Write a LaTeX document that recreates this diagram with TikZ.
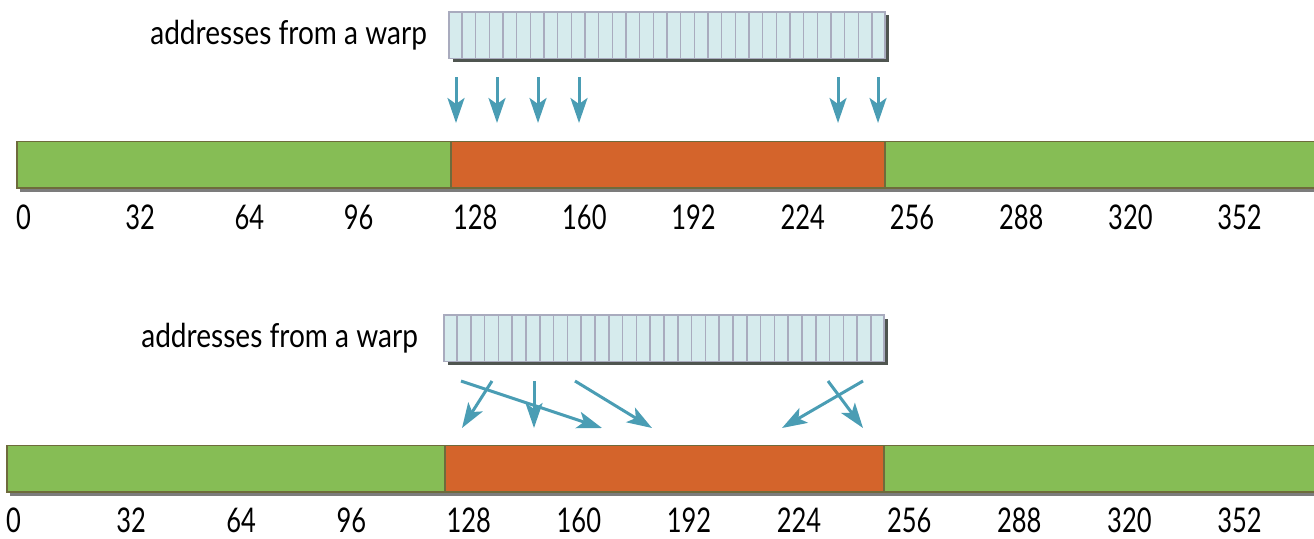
\documentclass[tikz,border=0pt]{standalone}
\usepackage{fontspec}
\setmainfont{Lato}[FakeStretch=0.85]
\newfontfamily\numfont{Lato}[FakeStretch=0.75]
\usepackage{xcolor}
\definecolor{BarGreen}{HTML}{86BD55}
\definecolor{BarOrange}{HTML}{D4642B}
\definecolor{BarEdge}{HTML}{6E6B3C}
\definecolor{BarShade}{HTML}{7C7C7C}
\definecolor{CellFill}{HTML}{D6EBED}
\definecolor{CellEdge}{HTML}{A9ABBE}
\definecolor{WarpShade}{HTML}{4F5550}
\definecolor{ArrowBlue}{HTML}{4A9DB4}
\usepackage{tikz}
\usetikzlibrary{calc, arrows.meta, positioning, shadows}

\begin{document}
\begin{tikzpicture}[x=1pt, y=-1pt,
    warpbox/.style={draw=CellEdge, line width=1.5pt, fill=CellFill,
      minimum height=46.5pt, inner sep=0pt,
      general shadow={fill=WarpShade, shadow xshift=3.5pt, shadow yshift=-3.5pt}},
    membar/.style={draw=BarEdge, line width=1.5pt, fill=BarGreen,
      minimum height=46.5pt, inner sep=0pt, anchor=north west},
    barshade/.style={general shadow={fill=BarShade, shadow xshift=3pt, shadow yshift=-4pt}},
    warplabel/.style={font=\fontsize{33}{38}\selectfont, inner sep=0pt},
    addr/.style={font=\numfont\fontsize{34}{38}\selectfont, inner sep=0pt, anchor=west},
    addrarrow/.style={ArrowBlue, line width=3pt,
      -{Stealth[length=25pt, width=17pt, inset=6pt]}}]
  \useasboundingbox (0,0) rectangle (1314,538);

  % coalesced access: one warp, one segment
  \node[warpbox, minimum width=436pt] (warpA) at (667,35) {};
  \foreach \k in {1,...,31}
    \draw[CellEdge, line width=1.5pt]
      ($(warpA.north west)!\k/32!(warpA.north east)$) --
      ($(warpA.south west)!\k/32!(warpA.south east)$);
  \node[warplabel, left=21pt of warpA] (txtA) {addresses from a warp};

  \node[membar, barshade, minimum width=1304pt] (memA) at (16,140.5) {};
  \node[membar, fill=BarOrange, minimum width=434pt] (segA) at (450,140.5) {};
  \foreach \a [count=\i from 0] in {0,32,...,352}
    \node[addr] (a\a) at (16+109.2*\i,217) {\a};

  \foreach \x [count=\n] in {456,497,538,579,838,878} {
    \coordinate (ta\n) at (\x,77);
    \coordinate (ha\n) at (\x,123);
    \draw[addrarrow] (ta\n) -- (ha\n);
  }

  % permuted access: same segment, shuffled threads
  \node[warpbox, minimum width=440pt] (warpB) at (664,338.3) {};
  \foreach \k in {1,...,31}
    \draw[CellEdge, line width=1.5pt]
      ($(warpB.north west)!\k/32!(warpB.north east)$) --
      ($(warpB.south west)!\k/32!(warpB.south east)$);
  \node[warplabel, left=25pt of warpB] (txtB) {addresses from a warp};

  \node[membar, barshade, minimum width=1314pt] (memB) at (6,444.5) {};
  \node[membar, fill=BarOrange, minimum width=439pt] (segB) at (444,444.5) {};
  \foreach \a [count=\i from 0] in {0,32,...,352}
    \node[addr] (b\a) at (6+110.1*\i,520) {\a};

  \foreach \s/\e [count=\n] in {461/602, 492/462, 534/534, 575/652, 863/782, 828/863} {
    \coordinate (tb\n) at (\s,381);
    \coordinate (hb\n) at (\e,428);
    \draw[addrarrow] (tb\n) -- (hb\n);
  }
\end{tikzpicture}
\end{document}
